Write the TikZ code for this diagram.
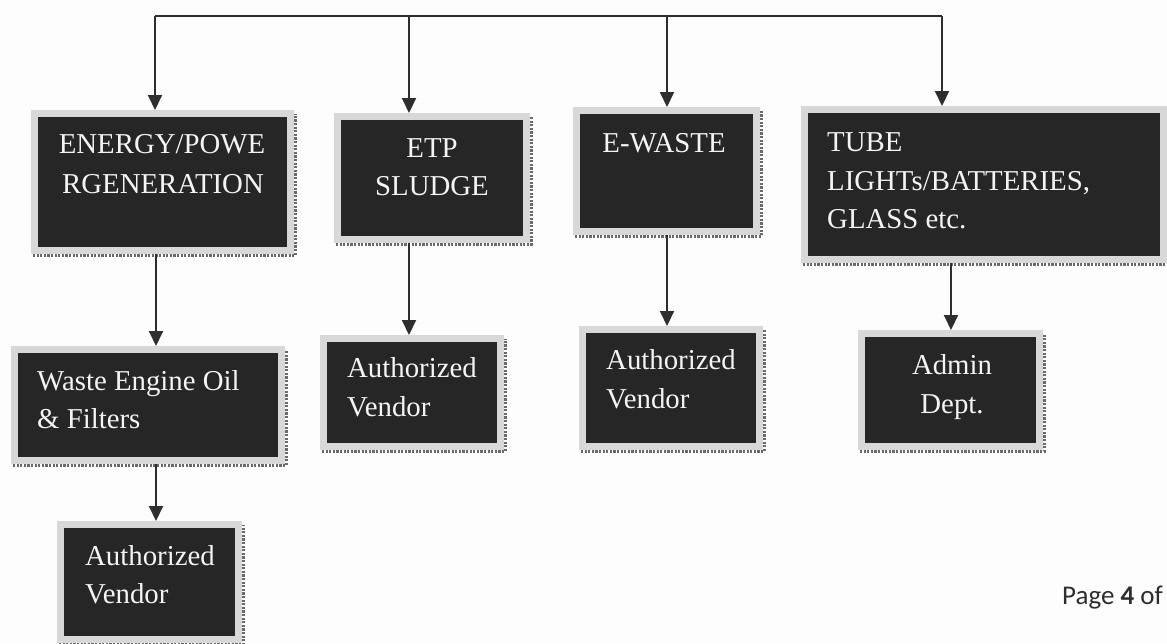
\documentclass[tikz,border=0pt]{standalone}
\usepackage{fontspec}
\setmainfont{Liberation Serif}
\newfontfamily\pagefont{Carlito}
\usetikzlibrary{arrows.meta}
\definecolor{boxfill}{HTML}{262626}
\definecolor{framegray}{HTML}{D8D8D8}
\definecolor{shadegray}{HTML}{6A6A6A}
\definecolor{ink}{HTML}{2E2E2E}
\definecolor{txt}{HTML}{F4F4F4}
\definecolor{bg}{HTML}{FDFDFD}
\tikzset{
  wbox/.style={fill=boxfill, draw=framegray, line width=7pt, inner sep=0pt, outer sep=3.5pt},
  shadeline/.style={draw=shadegray, line width=2.6pt, dash pattern=on 2.2pt off 1.4pt},
  arr/.style={draw=ink, line width=2pt, -{Triangle[width=14pt,length=15pt]}},
  bus/.style={draw=ink, line width=2pt},
  lbl/.style={text=txt, font=\fontsize{28.8}{38}\selectfont, inner sep=0pt},
}
% #1 name, #2..#5 inner black rectangle x1 y1 x2 y2
\newcommand{\wastebox}[5]{%
  \node[wbox, minimum width={#4-#2+7}, minimum height={#5-#3+7}] (#1) at ({(#2+#4)/2},{(#3+#5)/2}) {};
  \draw[shadeline] ({#2-5},{#5+8.3}) -- ({#4+8.3},{#5+8.3}) -- ({#4+8.3},{#3-3});
}
\begin{document}
\begin{tikzpicture}[x=1pt,y=-1pt]
\fill[bg] (0,0) rectangle (1167,643);
\useasboundingbox (0,0) rectangle (1167,643);

% boxes (inner black area)
\wastebox{energy}{38}{117}{287}{247}
\wastebox{etp}{341}{120}{523}{236}
\wastebox{ewaste}{580}{114}{753}{228}
\wastebox{tube}{808}{113}{1160}{256}
\wastebox{oil}{18}{353}{278}{457}
\wastebox{vendA}{64}{528}{235}{636}
\wastebox{vendB}{327}{342}{497}{443}
\wastebox{vendC}{586}{333}{756}{443}
\wastebox{admin}{865}{337}{1036}{443}

% labels (one node per printed line, placed on its baseline)
\node[lbl, anchor=base] (tEnergyA) at (162,153) {ENERGY/POWE};
\node[lbl, anchor=base] (tEnergyB) at (163,193) {RGENERATION};
\node[lbl, anchor=base] (tEtpA) at (432,157) {ETP};
\node[lbl, anchor=base] (tEtpB) at (432,195) {SLUDGE};
\node[lbl, anchor=base] (tEwaste) at (664,152) {E-WASTE};
\node[lbl, anchor=base west] (tTubeA) at (827,151) {TUBE};
\node[lbl, anchor=base west] (tTubeB) at (827,190) {LIGHTs/BATTERIES,};
\node[lbl, anchor=base west] (tTubeC) at (827,228) {GLASS etc.};
\node[lbl, anchor=base west] (tOilA) at (37,390) {Waste Engine Oil};
\node[lbl, anchor=base west] (tOilB) at (37,428) {\& Filters};
\node[lbl, anchor=base west] (tVendA1) at (85,565) {Authorized};
\node[lbl, anchor=base west] (tVendA2) at (85,603) {Vendor};
\node[lbl, anchor=base west] (tVendB1) at (347,377) {Authorized};
\node[lbl, anchor=base west] (tVendB2) at (347,416) {Vendor};
\node[lbl, anchor=base west] (tVendC1) at (606,369) {Authorized};
\node[lbl, anchor=base west] (tVendC2) at (606,408) {Vendor};
\node[lbl, anchor=base] (tAdminA) at (952,374) {Admin};
\node[lbl, anchor=base] (tAdminB) at (952,413) {Dept.};

% top bus
\coordinate (b1) at (155,16);
\coordinate (b2) at (409,16);
\coordinate (b3) at (667,16);
\coordinate (b4) at (942,16);
\coordinate (c1) at (156,0);
\coordinate (c4) at (951,0);
\draw[bus] (b1) -- (b4);
\draw[arr] (b1) -- (energy.north -| b1);
\draw[arr] (b2) -- (etp.north -| b2);
\draw[arr] (b3) -- (ewaste.north -| b3);
\draw[arr] (b4) -- (tube.north -| b4);

% down connectors
\draw[arr] (energy.south -| c1) -- (oil.north -| c1);
\draw[arr] (oil.south -| c1) -- (vendA.north -| c1);
\draw[arr] (etp.south -| b2) -- (vendB.north -| b2);
\draw[arr] (ewaste.south -| b3) -- (vendC.north -| b3);
\draw[arr] (tube.south -| c4) -- (admin.north -| c4);

% page footer
\node[anchor=base west, text=ink, inner sep=0pt, font=\pagefont\fontsize{27}{30}\selectfont] (page) at (1062,604) {Page \textbf{4} of};
\end{tikzpicture}
\end{document}
